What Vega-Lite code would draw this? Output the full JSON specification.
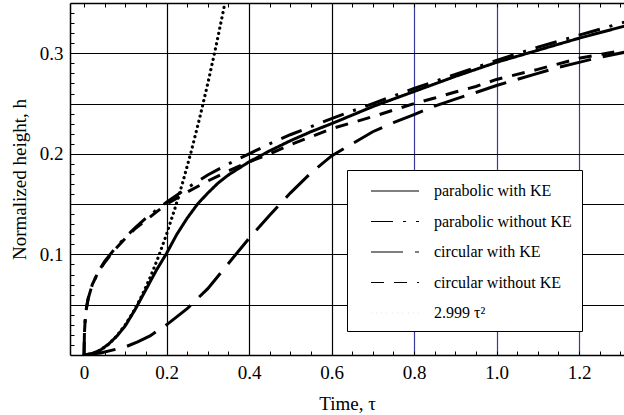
{
  "$schema": "https://vega.github.io/schema/vega-lite/v6.json",
  "width": 554,
  "height": 352,
  "autosize": {"type": "none"},
  "padding": {"left": 70, "top": 3, "right": 0, "bottom": 60},
  "background": "white",
  "config": {
    "view": {"stroke": null},
    "font": "Liberation Serif"
  },
  "data": {
    "values": [
      {"series": "parabolic with KE", "t": 0, "h": 0},
      {"series": "parabolic with KE", "t": 0.02, "h": 0.0015},
      {"series": "parabolic with KE", "t": 0.04, "h": 0.005},
      {"series": "parabolic with KE", "t": 0.06, "h": 0.011},
      {"series": "parabolic with KE", "t": 0.08, "h": 0.019},
      {"series": "parabolic with KE", "t": 0.1, "h": 0.029},
      {"series": "parabolic with KE", "t": 0.125, "h": 0.046},
      {"series": "parabolic with KE", "t": 0.15, "h": 0.065},
      {"series": "parabolic with KE", "t": 0.175, "h": 0.084},
      {"series": "parabolic with KE", "t": 0.2, "h": 0.101},
      {"series": "parabolic with KE", "t": 0.225, "h": 0.12},
      {"series": "parabolic with KE", "t": 0.25, "h": 0.136},
      {"series": "parabolic with KE", "t": 0.275, "h": 0.15},
      {"series": "parabolic with KE", "t": 0.3, "h": 0.161},
      {"series": "parabolic with KE", "t": 0.325, "h": 0.171},
      {"series": "parabolic with KE", "t": 0.35, "h": 0.179},
      {"series": "parabolic with KE", "t": 0.4, "h": 0.192},
      {"series": "parabolic with KE", "t": 0.45, "h": 0.203},
      {"series": "parabolic with KE", "t": 0.5, "h": 0.213},
      {"series": "parabolic with KE", "t": 0.55, "h": 0.222},
      {"series": "parabolic with KE", "t": 0.6, "h": 0.23},
      {"series": "parabolic with KE", "t": 0.7, "h": 0.247},
      {"series": "parabolic with KE", "t": 0.8, "h": 0.262},
      {"series": "parabolic with KE", "t": 0.9, "h": 0.277},
      {"series": "parabolic with KE", "t": 1.0, "h": 0.291},
      {"series": "parabolic with KE", "t": 1.1, "h": 0.303},
      {"series": "parabolic with KE", "t": 1.2, "h": 0.315},
      {"series": "parabolic with KE", "t": 1.31, "h": 0.327},

      {"series": "parabolic without KE", "t": 0, "h": 0},
      {"series": "parabolic without KE", "t": 0.001, "h": 0.022},
      {"series": "parabolic without KE", "t": 0.003, "h": 0.036},
      {"series": "parabolic without KE", "t": 0.006, "h": 0.047},
      {"series": "parabolic without KE", "t": 0.01, "h": 0.056},
      {"series": "parabolic without KE", "t": 0.02, "h": 0.07},
      {"series": "parabolic without KE", "t": 0.035, "h": 0.083},
      {"series": "parabolic without KE", "t": 0.05, "h": 0.093},
      {"series": "parabolic without KE", "t": 0.075, "h": 0.106},
      {"series": "parabolic without KE", "t": 0.1, "h": 0.117},
      {"series": "parabolic without KE", "t": 0.125, "h": 0.127},
      {"series": "parabolic without KE", "t": 0.15, "h": 0.136},
      {"series": "parabolic without KE", "t": 0.175, "h": 0.144},
      {"series": "parabolic without KE", "t": 0.2, "h": 0.152},
      {"series": "parabolic without KE", "t": 0.25, "h": 0.166},
      {"series": "parabolic without KE", "t": 0.3, "h": 0.179},
      {"series": "parabolic without KE", "t": 0.35, "h": 0.19},
      {"series": "parabolic without KE", "t": 0.4, "h": 0.2},
      {"series": "parabolic without KE", "t": 0.45, "h": 0.21},
      {"series": "parabolic without KE", "t": 0.5, "h": 0.219},
      {"series": "parabolic without KE", "t": 0.6, "h": 0.235},
      {"series": "parabolic without KE", "t": 0.7, "h": 0.25},
      {"series": "parabolic without KE", "t": 0.8, "h": 0.265},
      {"series": "parabolic without KE", "t": 0.9, "h": 0.279},
      {"series": "parabolic without KE", "t": 1.0, "h": 0.293},
      {"series": "parabolic without KE", "t": 1.1, "h": 0.306},
      {"series": "parabolic without KE", "t": 1.2, "h": 0.318},
      {"series": "parabolic without KE", "t": 1.31, "h": 0.331},

      {"series": "circular with KE", "t": 0, "h": 0},
      {"series": "circular with KE", "t": 0.04, "h": 0.002},
      {"series": "circular with KE", "t": 0.08, "h": 0.006},
      {"series": "circular with KE", "t": 0.1, "h": 0.008},
      {"series": "circular with KE", "t": 0.13, "h": 0.013},
      {"series": "circular with KE", "t": 0.16, "h": 0.019},
      {"series": "circular with KE", "t": 0.2, "h": 0.03},
      {"series": "circular with KE", "t": 0.25, "h": 0.046},
      {"series": "circular with KE", "t": 0.3, "h": 0.066},
      {"series": "circular with KE", "t": 0.35, "h": 0.091},
      {"series": "circular with KE", "t": 0.4, "h": 0.116},
      {"series": "circular with KE", "t": 0.45, "h": 0.139},
      {"series": "circular with KE", "t": 0.5, "h": 0.161},
      {"series": "circular with KE", "t": 0.55, "h": 0.181},
      {"series": "circular with KE", "t": 0.6, "h": 0.198},
      {"series": "circular with KE", "t": 0.65, "h": 0.21},
      {"series": "circular with KE", "t": 0.7, "h": 0.222},
      {"series": "circular with KE", "t": 0.75, "h": 0.231},
      {"series": "circular with KE", "t": 0.8, "h": 0.239},
      {"series": "circular with KE", "t": 0.85, "h": 0.2475},
      {"series": "circular with KE", "t": 0.9, "h": 0.2545},
      {"series": "circular with KE", "t": 0.95, "h": 0.261},
      {"series": "circular with KE", "t": 1.0, "h": 0.268},
      {"series": "circular with KE", "t": 1.05, "h": 0.274},
      {"series": "circular with KE", "t": 1.1, "h": 0.28},
      {"series": "circular with KE", "t": 1.15, "h": 0.286},
      {"series": "circular with KE", "t": 1.2, "h": 0.291},
      {"series": "circular with KE", "t": 1.25, "h": 0.296},
      {"series": "circular with KE", "t": 1.31, "h": 0.301},

      {"series": "circular without KE", "t": 0, "h": 0},
      {"series": "circular without KE", "t": 0.001, "h": 0.022},
      {"series": "circular without KE", "t": 0.003, "h": 0.036},
      {"series": "circular without KE", "t": 0.006, "h": 0.047},
      {"series": "circular without KE", "t": 0.01, "h": 0.056},
      {"series": "circular without KE", "t": 0.02, "h": 0.07},
      {"series": "circular without KE", "t": 0.035, "h": 0.083},
      {"series": "circular without KE", "t": 0.05, "h": 0.092},
      {"series": "circular without KE", "t": 0.075, "h": 0.105},
      {"series": "circular without KE", "t": 0.1, "h": 0.116},
      {"series": "circular without KE", "t": 0.125, "h": 0.126},
      {"series": "circular without KE", "t": 0.15, "h": 0.134},
      {"series": "circular without KE", "t": 0.175, "h": 0.142},
      {"series": "circular without KE", "t": 0.2, "h": 0.15},
      {"series": "circular without KE", "t": 0.25, "h": 0.162},
      {"series": "circular without KE", "t": 0.3, "h": 0.173},
      {"series": "circular without KE", "t": 0.35, "h": 0.183},
      {"series": "circular without KE", "t": 0.4, "h": 0.192},
      {"series": "circular without KE", "t": 0.45, "h": 0.2},
      {"series": "circular without KE", "t": 0.5, "h": 0.209},
      {"series": "circular without KE", "t": 0.55, "h": 0.217},
      {"series": "circular without KE", "t": 0.6, "h": 0.225},
      {"series": "circular without KE", "t": 0.65, "h": 0.231},
      {"series": "circular without KE", "t": 0.7, "h": 0.237},
      {"series": "circular without KE", "t": 0.75, "h": 0.2435},
      {"series": "circular without KE", "t": 0.8, "h": 0.25},
      {"series": "circular without KE", "t": 0.85, "h": 0.2555},
      {"series": "circular without KE", "t": 0.9, "h": 0.2615},
      {"series": "circular without KE", "t": 0.95, "h": 0.267},
      {"series": "circular without KE", "t": 1.0, "h": 0.274},
      {"series": "circular without KE", "t": 1.1, "h": 0.284},
      {"series": "circular without KE", "t": 1.2, "h": 0.295},
      {"series": "circular without KE", "t": 1.31, "h": 0.303},

      {"series": "2.999 τ²", "t": 0, "h": 0},
      {"series": "2.999 τ²", "t": 0.02, "h": 0.0012},
      {"series": "2.999 τ²", "t": 0.04, "h": 0.0048},
      {"series": "2.999 τ²", "t": 0.06, "h": 0.0108},
      {"series": "2.999 τ²", "t": 0.08, "h": 0.0192},
      {"series": "2.999 τ²", "t": 0.1, "h": 0.03},
      {"series": "2.999 τ²", "t": 0.12, "h": 0.0432},
      {"series": "2.999 τ²", "t": 0.14, "h": 0.0588},
      {"series": "2.999 τ²", "t": 0.16, "h": 0.0768},
      {"series": "2.999 τ²", "t": 0.18, "h": 0.0972},
      {"series": "2.999 τ²", "t": 0.2, "h": 0.12},
      {"series": "2.999 τ²", "t": 0.22, "h": 0.1452},
      {"series": "2.999 τ²", "t": 0.24, "h": 0.1727},
      {"series": "2.999 τ²", "t": 0.26, "h": 0.2027},
      {"series": "2.999 τ²", "t": 0.28, "h": 0.2351},
      {"series": "2.999 τ²", "t": 0.3, "h": 0.2699},
      {"series": "2.999 τ²", "t": 0.32, "h": 0.3071},
      {"series": "2.999 τ²", "t": 0.34, "h": 0.3467},
      {"series": "2.999 τ²", "t": 0.3416, "h": 0.35}
    ]
  },
  "encoding": {
    "y": {
      "field": "h",
      "type": "quantitative",
      "scale": {"domain": [0, 0.35], "nice": false, "zero": false},
      "axis": {
        "title": "Normalized height, h",
        "titleFont": "Liberation Serif",
        "titleFontSize": 19,
        "titleFontWeight": "normal",
        "titleColor": "black",
        "titlePadding": 10,
        "values": [0.01, 0.02, 0.03, 0.04, 0.05, 0.06, 0.07, 0.08, 0.09, 0.1, 0.11, 0.12, 0.13, 0.14, 0.15, 0.16, 0.17, 0.18, 0.19, 0.2, 0.21, 0.22, 0.23, 0.24, 0.25, 0.26, 0.27, 0.28, 0.29, 0.3, 0.31, 0.32, 0.33, 0.34],
        "labelExpr": "abs(datum.value * 10 - round(datum.value * 10)) < 1e-6 ? format(datum.value, '.1f') : ''",
        "labelFont": "Liberation Serif",
        "labelFontSize": 19,
        "labelColor": "black",
        "labelPadding": 11,
        "labelOverlap": false,
        "labelFlush": false,
        "tickSize": -4,
        "tickColor": "black",
        "tickWidth": 1,
        "domainColor": "black",
        "domainWidth": 1.5,
        "grid": true,
        "gridColor": "black",
        "gridWidth": 1.2,
        "gridOpacity": {"condition": {"test": "abs(datum.value * 20 - round(datum.value * 20)) < 1e-6", "value": 1}, "value": 0}
      }
    },
    "strokeDash": {
      "field": "series",
      "type": "nominal",
      "scale": {
        "domain": ["parabolic with KE", "parabolic without KE", "circular with KE", "circular without KE", "2.999 τ²"],
        "range": [[1, 0], [22, 10, 3, 10], [32, 12], [13, 10], [0.1, 5.2]]
      },
      "legend": {
        "title": null,
        "orient": "none",
        "legendX": 277,
        "legendY": 167,
        "fillColor": "white",
        "strokeColor": "black",
        "padding": 10,
        "symbolOffset": 27,
        "symbolType": "M-2.4,0H2.4",
        "symbolSize": 400,
        "symbolStrokeWidth": 1.2,
        "symbolStrokeColor": "black",
        "labelFont": "Liberation Serif",
        "labelFontSize": 16,
        "labelColor": "black",
        "labelOffset": 28,
        "labelExpr": "datum.label + '\u00a0\u00a0\u00a0\u00a0'",
        "rowPadding": 11.5
      }
    }
  },
  "layer": [
    {
      "transform": [{"filter": "datum.series !== '2.999 τ²'"}],
      "mark": {"type": "line", "stroke": "black", "strokeWidth": 3, "strokeCap": "butt", "clip": true},
      "encoding": {
        "x": {
          "field": "t",
          "type": "quantitative",
          "scale": {"domain": [-0.034, 1.309], "nice": false, "zero": false},
          "axis": {
            "orient": "bottom",
            "title": "Time, τ",
            "titleFont": "Liberation Serif",
            "titleFontSize": 19,
            "titleFontWeight": "normal",
            "titleColor": "black",
            "titlePadding": 12,
            "values": [0, 0.05, 0.1, 0.15, 0.2, 0.25, 0.3, 0.35, 0.4, 0.45, 0.5, 0.55, 0.6, 0.65, 0.7, 0.75, 0.8, 0.85, 0.9, 0.95, 1, 1.05, 1.1, 1.15, 1.2, 1.25, 1.3],
            "labelExpr": "abs(datum.value * 5 - round(datum.value * 5)) < 1e-6 ? (datum.value == 0 ? '0' : format(datum.value, '.1f')) : ''",
            "labelFont": "Liberation Serif",
            "labelFontSize": 19,
            "labelColor": "black",
            "labelPadding": 12,
            "labelOverlap": false,
            "labelFlush": false,
            "tickSize": -4,
            "tickColor": "black",
            "tickWidth": 1,
            "domainColor": "black",
            "domainWidth": 1.5,
            "grid": true,
            "gridWidth": 1.2,
            "gridColor": {"condition": {"test": "datum.value > 0.7", "value": "#3a3a9e"}, "value": "black"},
            "gridOpacity": {"condition": {"test": "datum.value > 0.1 && abs(datum.value * 5 - round(datum.value * 5)) < 1e-6", "value": 1}, "value": 0}
          }
        }
      }
    },
    {
      "transform": [{"filter": "datum.series === '2.999 τ²'"}],
      "mark": {"type": "line", "stroke": "black", "strokeWidth": 3.2, "strokeCap": "round", "clip": true},
      "encoding": {
        "x": {
          "field": "t",
          "type": "quantitative",
          "scale": {"domain": [-0.034, 1.309], "nice": false, "zero": false},
          "axis": {
            "orient": "top",
            "title": null,
            "labels": false,
            "grid": false,
            "values": [0, 0.05, 0.1, 0.15, 0.2, 0.25, 0.3, 0.35, 0.4, 0.45, 0.5, 0.55, 0.6, 0.65, 0.7, 0.75, 0.8, 0.85, 0.9, 0.95, 1, 1.05, 1.1, 1.15, 1.2, 1.25, 1.3],
            "tickSize": -4,
            "tickColor": "black",
            "tickWidth": 1,
            "domainColor": "black",
            "domainWidth": 1.5
          }
        }
      }
    }
  ],
  "resolve": {"axis": {"x": "independent"}}
}
